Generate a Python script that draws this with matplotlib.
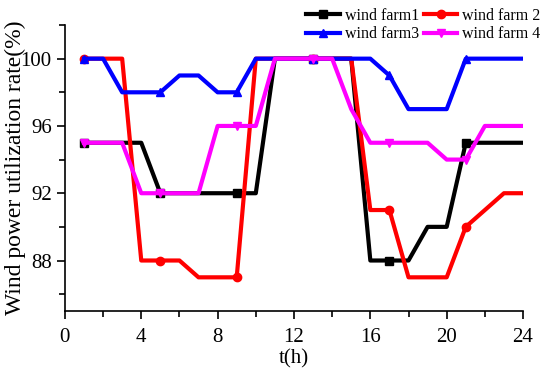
import matplotlib
matplotlib.use("Agg")
import matplotlib.pyplot as plt
from matplotlib.ticker import MultipleLocator

hours = list(range(1, 25))
farm1 = [95, 95, 95, 95, 92, 92, 92, 92, 92, 92, 100, 100, 100, 100, 100, 88, 88, 88, 90, 90, 95, 95, 95, 95]
farm2 = [100, 100, 100, 88, 88, 88, 87, 87, 87, 100, 100, 100, 100, 100, 100, 91, 91, 87, 87, 87, 90, 91, 92, 92]
farm3 = [100, 100, 98, 98, 98, 99, 99, 98, 98, 100, 100, 100, 100, 100, 100, 100, 99, 97, 97, 97, 100, 100, 100, 100]
farm4 = [95, 95, 95, 92, 92, 92, 92, 96, 96, 96, 100, 100, 100, 100, 97, 95, 95, 95, 95, 94, 94, 96, 96, 96]
labels = ["wind farm1", "wind farm 2", "wind farm3", "wind farm 4"]

plt.rcParams['font.family'] = ['Liberation Serif', 'DejaVu Serif']

fig = plt.figure(figsize=(5.5, 3.68), dpi=100)
ax = fig.add_axes([0.118, 0.155, 0.833, 0.777])

series = [farm1, farm2, farm3, farm4]
colors = ['black', 'red', 'blue', 'magenta']
markers = ['s', 'o', '^', 'v']
handles = []
for s, c, m, l in zip(series, colors, markers, labels):
    h, = ax.plot(hours, s, color=c, marker=m, markersize=6, lw=3,
                 markevery=list(range(0, 24, 4)), label=l)
    handles.append(h)

ax.set_xlim(0, 24)
ax.set_ylim(85, 102)
ax.xaxis.set_major_locator(MultipleLocator(4))
ax.xaxis.set_minor_locator(MultipleLocator(2))
ax.set_yticks([88, 92, 96, 100])
ax.set_yticks([86, 90, 94, 98, 102], minor=True)
ax.spines['top'].set_visible(False)
ax.spines['right'].set_visible(False)
for sp in ['left', 'bottom']:
    ax.spines[sp].set_linewidth(1.2)
ax.tick_params(which='major', direction='out', length=6, width=1.2, labelsize=15)
ax.tick_params(axis='x', which='major', pad=6)
ax.tick_params(which='minor', direction='out', length=4, width=1.2)
ax.set_xlabel('t(h)', fontsize=15, labelpad=2)
ax.set_ylabel('Wind power utilization rate(%)', fontsize=17, labelpad=-4)

order = [0, 2, 1, 3]
fig.legend([handles[i] for i in order], [labels[i] for i in order],
           loc='upper right', bbox_to_anchor=(1.0, 1.005), ncol=2, frameon=False,
           fontsize=11.5, handlelength=2.1, columnspacing=0.3, handletextpad=0.3,
           labelspacing=0.15, borderaxespad=0.2)

fig.savefig('out.png', dpi=100)
